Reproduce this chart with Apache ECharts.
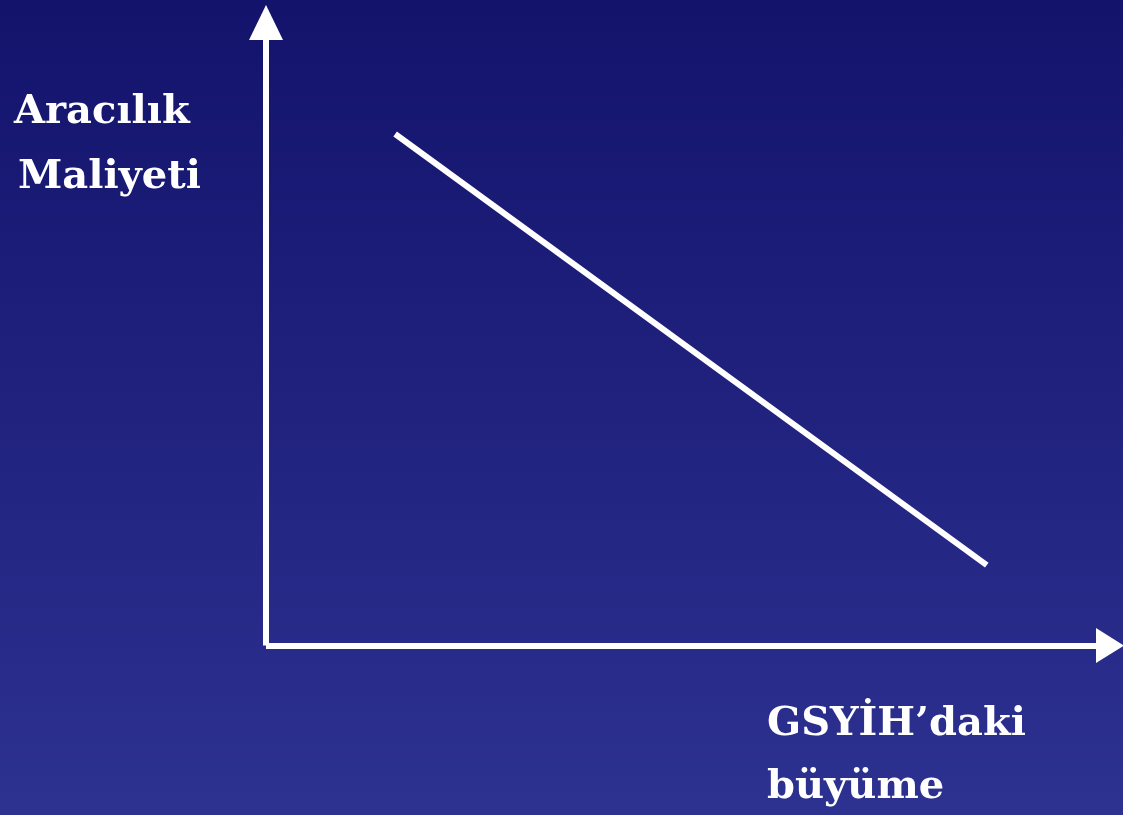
<!DOCTYPE html>
<html>
<head>
<meta charset="utf-8">
<title>Aracılık Maliyeti ve GSYİH büyümesi</title>
<script src="https://cdn.jsdelivr.net/npm/echarts@6/dist/echarts.min.js"></script>
<style>
  html, body { margin: 0; padding: 0; }
  #chart { width: 1123px; height: 815px; }
</style>
</head>
<body>
<div id="chart"></div>
<script>
// Two ends of the downward-sloping relationship
const growth = [15.3, 85.4];          // GSYİH'daki büyüme (x)
const cost = [82.1, 12.9];            // Aracılık maliyeti (y)
const yLabelLines = ['Aracılık', 'Maliyeti'];
const xLabelLines = ['GSYİH’daki', 'büyüme'];

const points = growth.map((g, i) => [g, cost[i]]);
const labelFont = 'bold 40px "DejaVu Serif", "Liberation Serif", serif';

const chart = echarts.init(document.getElementById('chart'), null, { renderer: 'canvas' });

const axisCommon = {
  type: 'value',
  min: 0,
  max: 100,
  axisLine: {
    show: true,
    onZero: false,
    lineStyle: { color: '#ffffff', width: 6, cap: 'butt' }
  },
  axisTick: { show: false },
  axisLabel: { show: false },
  splitLine: { show: false }
};

chart.setOption({
  animation: false,
  backgroundColor: {
    type: 'linear', x: 0, y: 0, x2: 0, y2: 1,
    colorStops: [
      { offset: 0, color: '#13136c' },
      { offset: 1, color: '#2d3190' }
    ]
  },
  grid: { left: 266, right: 13, top: 22.5, bottom: 169.5 },
  xAxis: Object.assign({}, axisCommon, {
    axisLine: Object.assign({}, axisCommon.axisLine, {
      symbol: ['none', 'triangle'],
      symbolSize: [35, 28],
      symbolOffset: [0, 0]
    })
  }),
  yAxis: Object.assign({}, axisCommon, {
    axisLine: Object.assign({}, axisCommon.axisLine, {
      symbol: ['none', 'triangle'],
      symbolSize: [34, 35],
      symbolOffset: [0, 0]
    })
  }),
  series: [{
    type: 'line',
    data: points,
    showSymbol: false,
    symbol: 'none',
    lineStyle: { color: '#ffffff', width: 6, cap: 'butt' }
  }],
  graphic: [
    { type: 'text', left: 14, top: 93, style: { text: yLabelLines[0], font: labelFont, fill: '#ffffff' } },
    { type: 'text', left: 18, top: 158, style: { text: yLabelLines[1], font: labelFont, fill: '#ffffff' } },
    { type: 'text', left: 767, top: 705, style: { text: xLabelLines[0], font: labelFont, fill: '#ffffff' } },
    { type: 'text', left: 767, top: 768, style: { text: xLabelLines[1], font: labelFont, fill: '#ffffff' } }
  ]
});
</script>
</body>
</html>
